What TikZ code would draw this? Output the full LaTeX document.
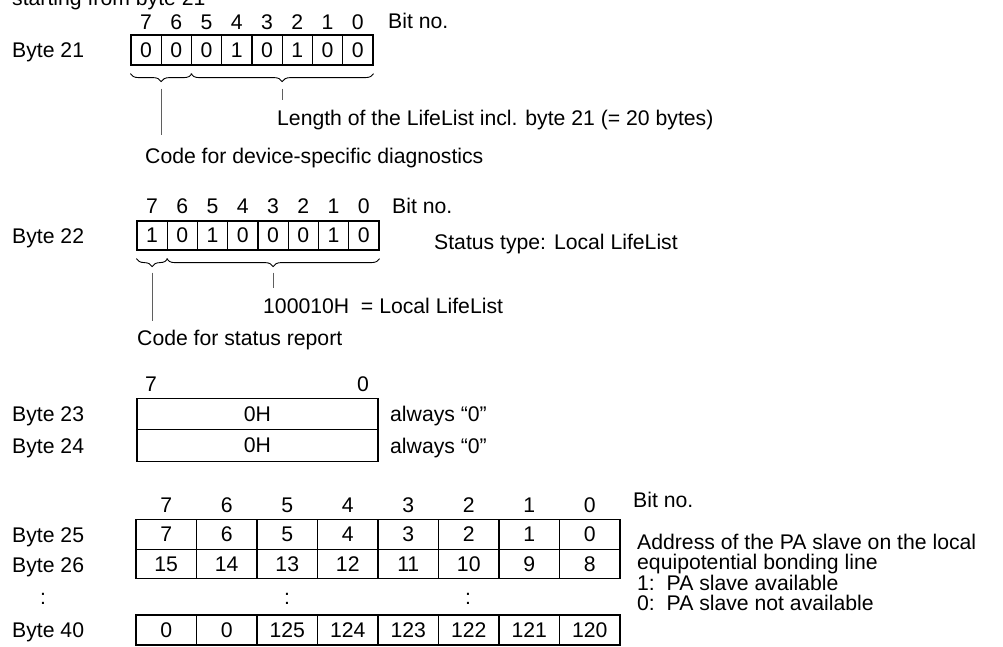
\documentclass[tikz,border=0pt]{standalone}
\usepackage{fontspec}
\setmainfont{Liberation Sans}
\usepackage{xcolor}
\usetikzlibrary{decorations.pathreplacing}
\definecolor{leadgray}{RGB}{95,95,95}

\begin{document}
\begin{tikzpicture}[
    x=1pt, y=-1pt,
    font=\fontsize{21.2}{24}\selectfont,
    txt/.style={anchor=base west, inner sep=0pt},
    num/.style={anchor=base, inner sep=0pt},
    cell/.style={draw, line width=1.2pt, inner sep=0pt,
        minimum width=30.25pt, minimum height=30pt},
    wide/.style={cell, minimum width=60.5pt},
    brc/.style={decorate, decoration={brace, mirror, amplitude=8pt}, line width=0.9pt},
    lead/.style={draw=leadgray, line width=1.1pt}
]
    \useasboundingbox (0,0) rectangle (1003,646);

    \node[txt] (head) at (12,5) {starting from byte 21};

    % byte 21
    \node[txt] (byte21) at (12,57) {Byte 21};
    \foreach \v [count=\i from 0] in {0,0,0,1,0,1,0,0}
        \node[cell] (c21\i) at ({146.1+30.25*\i},50) {\v};
    \foreach \b [count=\i from 0] in {7,6,5,4,3,2,1,0}
        \node[num] (n21\i) at ({146.1+30.25*\i},29) {\b};
    \node[txt] (bitno21) at (388,28) {Bit no.};
    \draw[brc] ([yshift=-8pt]c210.south west) -- ([yshift=-8pt]c211.south east);
    \draw[brc] ([yshift=-8pt]c212.south west) -- ([yshift=-8pt]c217.south east);
    \coordinate (tip21a) at ([yshift=-23pt]c210.south east);
    \coordinate (tip21b) at ([yshift=-23pt]c214.south east);
    \node[txt] (len21) at (277,125) {Length of the LifeList incl. byte 21 (= 20 bytes)};
    \node[txt] (code21) at (145,163) {Code for device-specific diagnostics};
    \draw[lead] (tip21a) -- ([yshift=12.5pt]tip21a |- code21.north);
    \draw[lead] (tip21b) -- ([yshift=9.5pt]tip21b |- len21.north);

    % byte 22
    \node[txt] (byte22) at (12,243) {Byte 22};
    \foreach \v [count=\i from 0] in {1,0,1,0,0,0,1,0}
        \node[cell, minimum height=29pt] (c22\i) at ({152.1+30.25*\i},235.5) {\v};
    \foreach \b [count=\i from 0] in {7,6,5,4,3,2,1,0}
        \node[num] (n22\i) at ({152.1+30.25*\i},213) {\b};
    \node[txt] (bitno22) at (392,213) {Bit no.};
    \node[txt] (stat22) at (434,249) {Status type: Local LifeList};
    \draw[brc] ([yshift=-8pt]c220.south west) -- ([yshift=-8pt]c220.south east);
    \draw[brc] ([yshift=-8pt]c221.south west) -- ([yshift=-8pt]c227.south east);
    \coordinate (tip22a) at ([yshift=-22pt]c220.south);
    \coordinate (tip22b) at ([yshift=-22pt]c224.south);
    \node[txt] (val22) at (263,313) {100010H\ \ = Local LifeList};
    \node[txt] (code22) at (137,345) {Code for status report};
    \draw[lead] (tip22a) -- ([yshift=8.5pt]tip22a |- code22.north);
    \draw[lead] (tip22b) -- ([yshift=9.5pt]tip22b |- val22.north);

    % bytes 23 and 24
    \node[num] (n23a) at (151,391) {7};
    \node[num] (n23b) at (363,391) {0};
    \node[cell, minimum width=241pt, minimum height=31.5pt] (c23) at (257.5,414) {0H};
    \node[cell, minimum width=241pt, minimum height=31.5pt] (c24) at (257.5,445.5) {0H};
    \node[txt] (byte23) at (12,421) {Byte 23};
    \node[txt] (byte24) at (12,453) {Byte 24};
    \node[txt] (alw23) at (390,421) {always “0”};
    \node[txt] (alw24) at (390,453) {always “0”};

    % bytes 25 to 40
    \foreach \b [count=\i from 0] in {7,6,5,4,3,2,1,0}
        \node[num] (n25\i) at ({166.25+60.5*\i},512) {\b};
    \foreach \v [count=\i from 0] in {7,6,5,4,3,2,1,0}
        \node[wide] (c25\i) at ({166.25+60.5*\i},534.25) {\v};
    \foreach \v [count=\i from 0] in {15,14,13,12,11,10,9,8}
        \node[wide, minimum height=29.5pt] (c26\i) at ({166.25+60.5*\i},564) {\v};
    \foreach \v [count=\i from 0] in {0,0,125,124,123,122,121,120}
        \node[wide] (c40\i) at ({166.25+60.5*\i},630) {\v};
    \node[txt] (byte25) at (12,542) {Byte 25};
    \node[txt] (byte26) at (12,572) {Byte 26};
    \node[num] (dots1) at (43,604) {:};
    \node[num] (dots2) at (287,604) {:};
    \node[num] (dots3) at (468,604) {:};
    \node[txt] (byte40) at (12,637) {Byte 40};
    \node[txt] (bitno25) at (633,507) {Bit no.};
    \node[txt] (addr1) at (637,549) {Address of the PA slave on the local};
    \node[txt] (addr2) at (637,569) {equipotential bonding line};
    \node[txt] (addr3) at (637,590) {1:\ \ PA slave available};
    \node[txt] (addr4) at (637,610) {0:\ \ PA slave not available};
\end{tikzpicture}
\end{document}
